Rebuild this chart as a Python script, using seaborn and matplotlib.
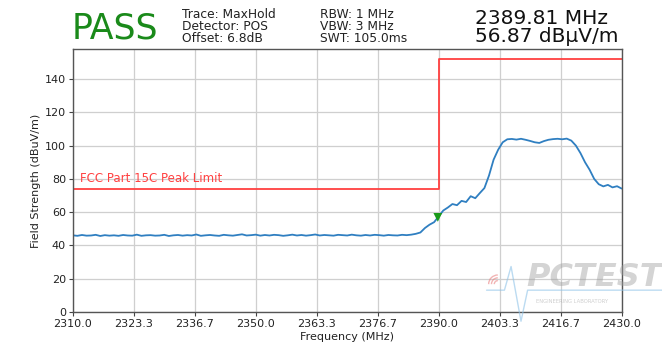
import numpy as np
import pandas as pd
import matplotlib
matplotlib.use("Agg")
import matplotlib.pyplot as plt
from matplotlib.patches import Arc
import seaborn as sns

# Swept trace, 1 MHz spacing from 2310 to 2430 MHz (dBuV/m)
freq_start = 2310.0
freq_step = 1.0
trace_level = [
    46.1, 45.8, 46.3, 45.9, 46.0, 46.4, 45.7, 46.2, 45.9, 46.1,
    45.8, 46.3, 46.0, 45.9, 46.5, 45.8, 46.1, 46.2, 45.9, 46.0,
    46.4, 45.7, 46.1, 46.3, 45.9, 46.2, 46.0, 46.6, 45.8, 46.1,
    46.3, 46.0, 45.8, 46.4, 46.1, 45.9, 46.3, 46.7, 46.0, 46.2,
    46.5, 45.9, 46.3, 46.0, 46.4, 46.2, 45.8, 46.1, 46.5, 46.0,
    46.3, 45.9, 46.2, 46.6, 46.0, 46.3, 46.1, 45.9, 46.4, 46.2,
    46.0, 46.5, 46.1, 45.9, 46.3, 46.0, 46.4,
    46.2, 45.9, 46.3, 46.1, 46.0, 46.4, 46.2, 46.5, 47.0,
    47.8, 50.5, 52.5, 54.0, 57.5, 61.0, 62.8, 64.9, 64.2, 66.8,
    66.1, 69.6, 68.4, 71.5, 74.5, 82.0, 91.5, 97.5, 102.0, 103.8,
    104.0, 103.6, 104.1, 103.5, 102.8, 102.0, 101.6, 102.7, 103.5, 103.9,
    104.1, 103.8, 104.2, 103.0, 100.0, 95.5, 90.0, 85.5, 80.0, 76.8,
    75.5, 76.4, 74.9, 75.6, 74.2,
]

# FCC Part 15C peak limit (restricted band below 2390 MHz)
limit_freq = [2310.0, 2390.0, 2390.0, 2430.0]
limit_level = [74.0, 74.0, 152.0, 152.0]

# Peak marker
marker_freq = [2389.81]
marker_level = [56.87]

x_ticks = [2310.0, 2323.3, 2336.7, 2350.0, 2363.3, 2376.7, 2390.0, 2403.3, 2416.7, 2430.0]
y_ticks = [0, 20, 40, 60, 80, 100, 120, 140]

trace = pd.DataFrame({
    "freq": freq_start + freq_step * np.arange(len(trace_level)),
    "level": trace_level,
})
limit = pd.DataFrame({"freq": limit_freq, "level": limit_level})
marker = pd.DataFrame({"freq": marker_freq, "level": marker_level})

sns.set_style("whitegrid")
plt.rcParams["font.family"] = ["DejaVu Sans"]

fig = plt.figure(figsize=(6.62, 3.53), dpi=100)
ax = fig.add_axes([0.110, 0.116, 0.829, 0.745])

sns.lineplot(data=limit, x="freq", y="level", ax=ax, color="#ff4040",
             linewidth=1.3, estimator=None, sort=False)
sns.lineplot(data=trace, x="freq", y="level", ax=ax, color="#2f7fc1",
             linewidth=1.3, estimator=None)
sns.scatterplot(data=marker, x="freq", y="level", ax=ax, marker="v",
                color="#1a9a1a", s=40, edgecolor="none", zorder=5)

ax.set_xlim(2310, 2430)
ax.set_ylim(0, 158)
ax.set_xticks(x_ticks)
ax.set_xticklabels([f"{t:.1f}" for t in x_ticks])
ax.set_yticks(y_ticks)
ax.tick_params(axis="both", labelsize=8, length=3, width=0.8,
               color="#444444", labelcolor="#222222", bottom=True, left=True, pad=2)
ax.grid(True, color="#cfcfcf", linewidth=0.9)
for s in ax.spines.values():
    s.set_color("#555555")
    s.set_linewidth(1.0)
ax.set_xlabel("Frequency (MHz)", fontsize=8, color="#222222", labelpad=2)
ax.set_ylabel("Field Strength (dBuV/m)", fontsize=8, color="#222222", labelpad=3)

ax.text(2311.5, 76.5, "FCC Part 15C Peak Limit", color="#ff4040", fontsize=8.5,
        va="bottom", ha="left")

# Header
fig.text(0.108, 0.918, "PASS", color="#1a8a1a", fontsize=25, va="center", ha="left")
fig.text(0.275, 0.978, "Trace: MaxHold\nDetector: POS\nOffset: 6.8dB",
         fontsize=8.8, va="top", ha="left", linespacing=0.92, color="#222222")
fig.text(0.483, 0.978, "RBW: 1 MHz\nVBW: 3 MHz\nSWT: 105.0ms",
         fontsize=8.8, va="top", ha="left", linespacing=0.92, color="#222222")
fig.text(0.718, 0.975, "2389.81 MHz\n56.87 dBµV/m",
         fontsize=14.5, va="top", ha="left", linespacing=0.92, color="#111111")

# Faint lab logo watermark
fig.text(0.795, 0.215, "PCTEST", fontsize=23, fontweight="bold", style="italic",
         color="#a0a0a0", alpha=0.45, va="center", ha="left")
fig.text(0.81, 0.145, "ENGINEERING LABORATORY", fontsize=3.8, color="#a0a0a0",
         alpha=0.5, va="center", ha="left")
fig.add_artist(plt.Line2D([0.735, 0.762, 0.772, 0.787, 0.797, 1.0],
                          [0.178, 0.178, 0.245, 0.09, 0.178, 0.178],
                          transform=fig.transFigure, color="#8fc3e8",
                          alpha=0.6, linewidth=1.0))
for r in (0.010, 0.018, 0.026):
    fig.add_artist(Arc((0.752, 0.195), r * 2 * 353 / 662, r * 2, theta1=90, theta2=180,
                       transform=fig.transFigure, color="#e87878", alpha=0.55,
                       linewidth=1.0))

fig.savefig("out.png", dpi=100)
